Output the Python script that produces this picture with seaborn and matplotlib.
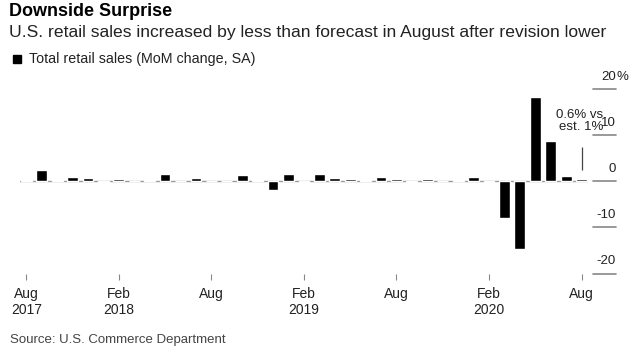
import pandas as pd
import matplotlib
matplotlib.use("Agg")
import matplotlib.pyplot as plt
from matplotlib.patches import Rectangle
import seaborn as sns

# --- data (monthly % change) ---
months = pd.date_range("2017-08-01", "2020-08-01", freq="MS").strftime("%Y-%m").tolist()
retail_mom = [
    0.4, 2.5, 0.3, 1.0, 0.7, -0.1, 0.6, 0.1, 0.3, 1.6, 0.1, 0.7,   # Aug17 - Jul18
    0.05, 0.1, 1.3, 0.3, -1.8, 1.7, -0.1, 1.7, 0.7, 0.5, 0.4, 0.9,  # Aug18 - Jul19
    0.5, -0.2, 0.6, 0.1, 0.3, 0.9, -0.2, -8.0, -14.6, 18.4, 8.8, 1.1,  # Aug19 - Jul20
    0.6,                                                           # Aug20
]
tick_pos = [0, 6, 12, 18, 24, 30, 36]
tick_labels = ["Aug\n2017", "Feb\n2018", "Aug", "Feb\n2019", "Aug", "Feb\n2020", "Aug"]
y_levels = [20, 10, 0, -10, -20]

df = pd.DataFrame({"month": months, "mom": retail_mom})

sns.set_style("white")
plt.rcParams["font.family"] = ["Liberation Sans", "DejaVu Sans"]

W, H = 642, 350
fig = plt.figure(figsize=(W / 100, H / 100), dpi=100)
ax_l, ax_r, ax_t, ax_b = 20.1, 587.7, 89.3, 273.5
ax = fig.add_axes([ax_l / W, 1 - ax_b / H, (ax_r - ax_l) / W, (ax_b - ax_t) / H])

ax.axhline(0, color="#999999", lw=1, zorder=0)
sns.barplot(data=df, x="month", y="mom", color="black", saturation=1,
            width=0.7, ax=ax, zorder=2)

ax.set_xlim(-0.4, len(months) - 0.6)
ax.set_ylim(-20, 20)
sns.despine(ax=ax, left=True, bottom=True)
ax.set_xlabel("")
ax.set_ylabel("")
ax.set_yticks([])
ax.set_xticks(tick_pos)
ax.set_xticklabels(tick_labels, fontsize=10, color="#222222", linespacing=1.15)
ax.tick_params(axis="x", bottom=True, length=4, width=0.8, color="#888888", pad=6)

# right-hand value scale: short rules with labels sitting above them
fx = lambda px: (px - ax_l) / (ax_r - ax_l)
ytr = ax.get_yaxis_transform()
for v in y_levels:
    ax.plot([fx(593), fx(616)], [v, v], transform=ytr, clip_on=False,
            color="#888888", lw=1.2)
    ax.annotate(str(v), xy=(fx(616), v), xycoords=ytr, xytext=(0, 7),
                textcoords="offset points", ha="right", va="baseline",
                fontsize=9.5, color="#222222")
    if v == 20:
        ax.annotate("%", xy=(fx(616), v), xycoords=ytr, xytext=(0, 7),
                    textcoords="offset points", ha="left", va="baseline",
                    fontsize=9.5, color="#222222")

# annotation for latest reading
last = len(months) - 1
ax.text(last, 10.6, "0.6% vs.\nest. 1%", ha="center", va="bottom",
        fontsize=9.5, color="#222222", linespacing=1.0, zorder=3)
ax.vlines(last, 2.5, 7.5, color="#444444", lw=0.9)

# header and footer
fig.text(9 / W, 1 - 12 / H, "Downside Surprise", fontsize=13, fontweight="bold",
         va="center", ha="left", color="black")
fig.text(9 / W, 1 - 33 / H,
         "U.S. retail sales increased by less than forecast in August after revision lower",
         fontsize=12.6, va="center", ha="left", color="#222222")
fig.patches.append(Rectangle((13 / W, 1 - 63 / H), 8 / W, 8 / H,
                             transform=fig.transFigure, color="black"))
fig.text(29 / W, 1 - 59 / H, "Total retail sales (MoM change, SA)", fontsize=10.3,
         va="center", ha="left", color="#222222")
fig.text(10 / W, 1 - 340 / H, "Source: U.S. Commerce Department", fontsize=9.5,
         va="center", ha="left", color="#444444")

fig.savefig("out.png", dpi=100)
